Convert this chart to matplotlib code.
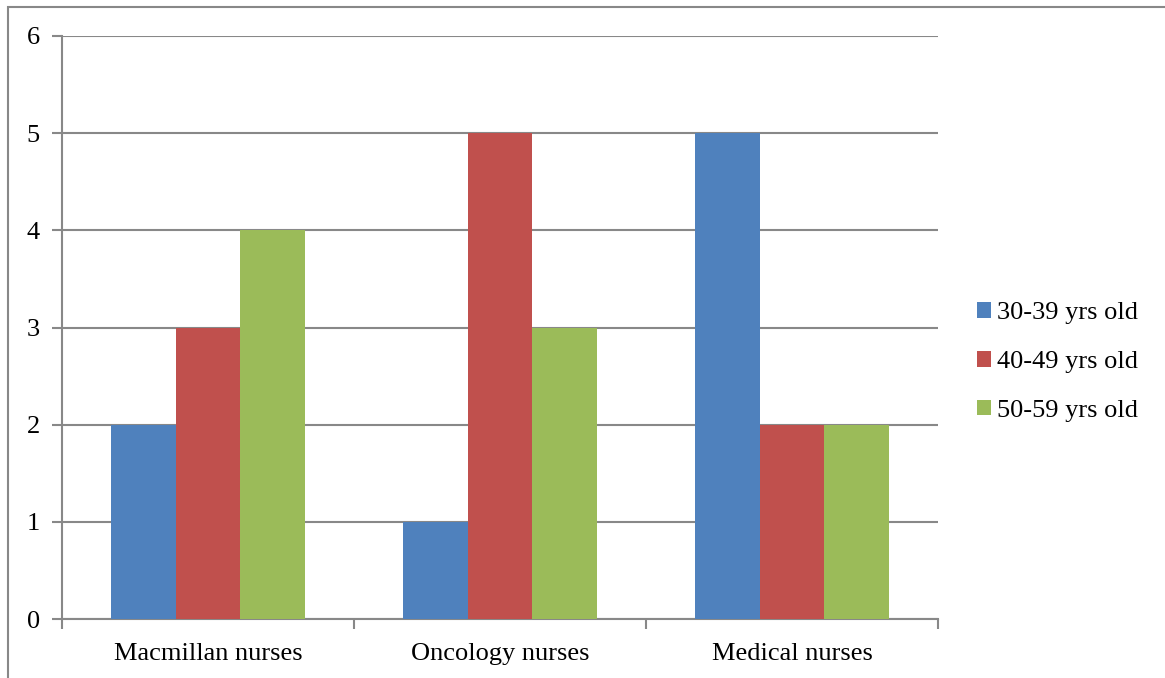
import matplotlib.pyplot as plt
import numpy as np
from matplotlib.patches import Rectangle

categories = ["Macmillan nurses", "Oncology nurses", "Medical nurses"]
series_names = ["30-39 yrs old", "40-49 yrs old", "50-59 yrs old"]
age_30_39 = [2, 1, 5]
age_40_49 = [3, 5, 2]
age_50_59 = [4, 3, 2]
colors = ["#4F81BD", "#C0504D", "#9BBB59"]

plt.rcParams["font.family"] = ["Liberation Serif", "DejaVu Serif"]

W, H = 1165, 678
fig = plt.figure(figsize=(W / 100, H / 100), dpi=100)

# outer chart border (top and left edges visible)
fig.add_artist(Rectangle((8 / W, -0.1), 1.2, (H - 7) / H + 0.1, transform=fig.transFigure,
                         fill=False, edgecolor="#888888", linewidth=1.5))

ax = fig.add_axes([62 / W, (H - 619) / H, (938 - 62) / W, (619 - 36) / H])

x = np.arange(len(categories))
width = 0.2222
series = [age_30_39, age_40_49, age_50_59]
for i, (vals, name) in enumerate(zip(series, series_names)):
    ax.bar(x + (i - 1) * width, vals, width, color=colors[i], label=name, zorder=3)

ax.set_xlim(-0.5, len(categories) - 0.5)
ax.set_ylim(0, 6)
ax.set_yticks(range(0, 7))
ax.yaxis.grid(True, color="#888888", linewidth=1.5, zorder=0)
ax.set_axisbelow(True)

ax.set_xticks(x)
ax.set_xticklabels(categories, fontsize=19)
ax.tick_params(axis="x", length=0, pad=17)
ax.set_xticks(np.arange(len(categories) + 1) - 0.5, minor=True)
ax.tick_params(axis="x", which="minor", length=7, width=1.5, color="#888888", direction="out")
ax.tick_params(axis="y", length=7, width=1.5, color="#888888", labelsize=19, pad=9)

for s in ["top", "right"]:
    ax.spines[s].set_visible(False)
for s in ["left", "bottom"]:
    ax.spines[s].set_color("#888888")
    ax.spines[s].set_linewidth(1.5)

ax.legend(loc="center left", bbox_to_anchor=(953 / W, (H - 362) / H), bbox_transform=fig.transFigure,
          frameon=False, fontsize=19, handlelength=0.55, handleheight=0.55, handletextpad=0.2,
          labelspacing=1.0)

fig.savefig("out.png", dpi=100)
